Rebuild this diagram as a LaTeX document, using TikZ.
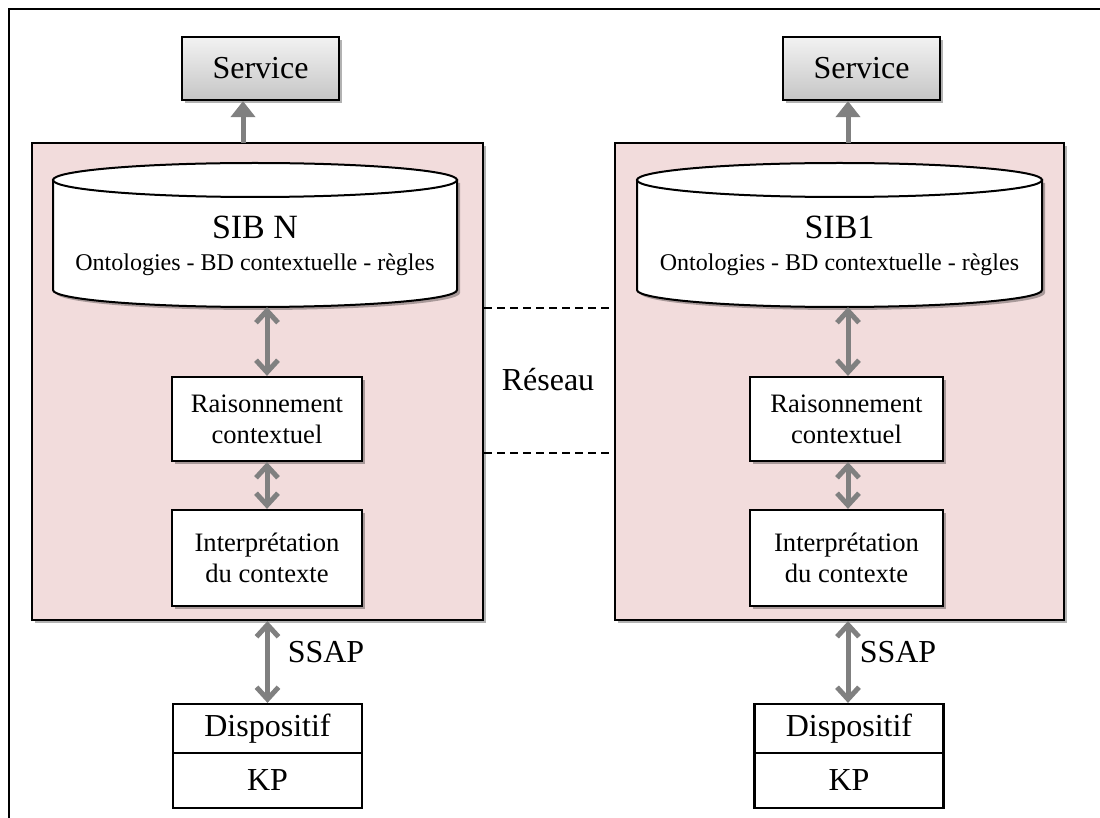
\documentclass[tikz,border=0pt]{standalone}
\usepackage{fontspec}
\setmainfont{Liberation Serif}
\usetikzlibrary{arrows.meta,shadows}

\definecolor{zonepink}{RGB}{242,220,220}
\definecolor{arrowgray}{RGB}{128,128,128}

\tikzset{
  shad/.style={drop shadow={shadow xshift=1.5pt,shadow yshift=-1.5pt,opacity=.3,fill=black}},
  zone/.style={draw,line width=1.1pt,fill=zonepink,shad,inner sep=0pt,minimum height=238.5pt},
  proc/.style={draw,line width=1.1pt,fill=white,shad,align=center,inner sep=0pt,
    font=\fontsize{13.3}{15.5}\selectfont},
  part/.style={draw,line width=1.1pt,fill=white,inner sep=0pt,minimum width=94.5pt,
    font=\fontsize{16}{19}\selectfont},
  serv/.style={draw,line width=1.1pt,top color=gray!10,bottom color=gray!45,shad,
    minimum width=78.5pt,minimum height=31.5pt,font=\fontsize{16}{19}\selectfont},
  cyl/.style={draw,line width=1pt,fill=white},
  cyltxt/.style={align=center,inner sep=0pt,font=\fontsize{12}{15}\selectfont},
  lbl/.style={font=\fontsize{16}{19}\selectfont},
  dbl/.style={arrowgray,line width=2.5pt,<->,>={Straight Barb[length=6pt,width=11pt]}},
  up/.style={arrowgray,line width=2.5pt,->,>={Triangle[length=8pt,width=12pt]}}
}

\begin{document}
\begin{tikzpicture}[x=0.5pt,y=-0.5pt]
  \useasboundingbox (0,0) rectangle (1100,818);
  \draw[line width=1.3pt] (9,818) -- (9,9) -- (1100,9);

  % left side : SIB N
  \node[serv] (servL) at (260.5,68.5) {Service};
  \node[zone,minimum width=225.5pt] (zoneL) at (257.5,381.5) {};
  \filldraw[cyl,shad] (53,180) -- (53,290) arc[start angle=180,end angle=0,x radius=202,y radius=17] -- (457,180) -- cycle;
  \draw[cyl] (255,180) ellipse[x radius=202,y radius=17];
  \node[cyltxt] (sibL) at (255,246) {{\fontsize{17}{19}\selectfont SIB N}\\[1pt] Ontologies - BD contextuelle - règles};
  \node[proc,minimum width=95pt,minimum height=42pt] (raisL) at (267,419) {Raisonnement\\contextuel};
  \node[proc,minimum width=95pt,minimum height=48pt] (interpL) at (267,558) {Interprétation\\du contexte};
  \node[part,minimum height=24.5pt] (dispL) at (267.5,728.5) {Dispositif};
  \node[part,minimum height=27.5pt] (kpL) at (267.5,780.5) {KP};
  \node[lbl] (ssapL) at (326,652) {SSAP};
  \coordinate (upL) at (243,143);
  \coordinate (cylL) at (267,307);
  \draw[up] (upL) -- (upL |- servL.south);
  \draw[dbl] (cylL) -- (raisL.north);
  \draw[dbl] (raisL.south) -- (interpL.north);
  \draw[dbl] (dispL.north |- zoneL.south) -- (dispL.north);

  % right side : SIB1
  \node[serv] (servR) at (861.5,68.5) {Service};
  \node[zone,minimum width=224.5pt] (zoneR) at (839.5,381.5) {};
  \filldraw[cyl,shad] (637,180) -- (637,290) arc[start angle=180,end angle=0,x radius=202.5,y radius=17] -- (1042,180) -- cycle;
  \draw[cyl] (839.5,180) ellipse[x radius=202.5,y radius=17];
  \node[cyltxt] (sibR) at (839.5,246) {{\fontsize{17}{19}\selectfont SIB1}\\[1pt] Ontologies - BD contextuelle - règles};
  \node[proc,minimum width=96.5pt,minimum height=42pt] (raisR) at (846.5,419) {Raisonnement\\contextuel};
  \node[proc,minimum width=96.5pt,minimum height=48pt] (interpR) at (846.5,558) {Interprétation\\du contexte};
  \node[part,minimum height=24.5pt] (dispR) at (849,728.5) {Dispositif};
  \node[part,minimum height=27.5pt] (kpR) at (849,780.5) {KP};
  \node[lbl] (ssapR) at (898,652) {SSAP};
  \coordinate (upR) at (848,143);
  \coordinate (cylR) at (848,307);
  \draw[up] (upR) -- (upR |- servR.south);
  \draw[dbl] (cylR) -- (cylR |- raisR.north);
  \draw[dbl] (cylR |- raisR.south) -- (cylR |- interpR.north);
  \draw[dbl] (cylR |- zoneR.south) -- (cylR |- dispR.north);

  % network between both
  \coordinate (netT) at (548,308);
  \coordinate (netB) at (548,453);
  \draw[line width=1pt,dash pattern=on 4pt off 2.5pt] (zoneL.east |- netT) -- (zoneR.west |- netT);
  \draw[line width=1pt,dash pattern=on 4pt off 2.5pt] (zoneL.east |- netB) -- (zoneR.west |- netB);
  \node[lbl] (reseau) at (548,380) {Réseau};
\end{tikzpicture}
\end{document}
